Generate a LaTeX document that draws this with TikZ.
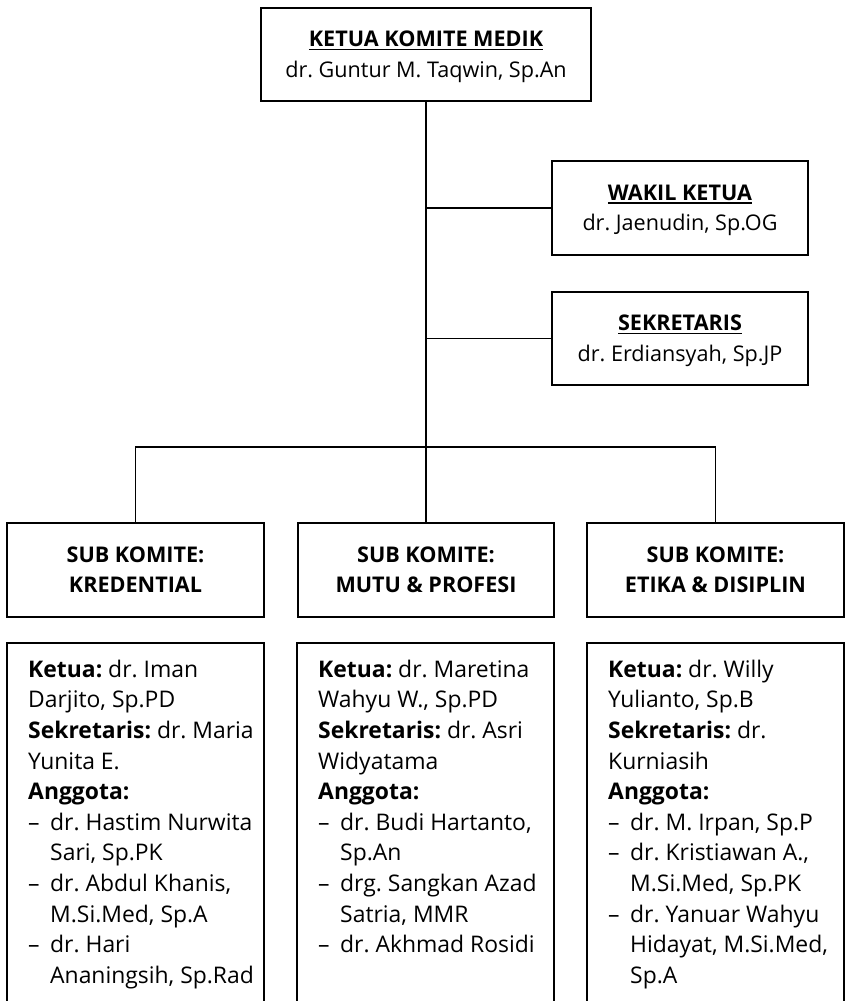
\documentclass[tikz,border=0pt]{standalone}
\usepackage{fontspec}
\setmainfont{Open Sans}
\frenchspacing
\newcommand\mainfs{\fontsize{21.6pt}{30.6pt}\selectfont\frenchspacing}
\newcommand\listfs{\fontsize{22.9pt}{30.6pt}\selectfont\frenchspacing}
\newcommand\topstrut{\rule{0pt}{24pt}}
\newcommand\botstrut{\rule[-9pt]{0pt}{9pt}}
\newcommand\ulbox[1]{\setbox0\hbox{#1}\rlap{\rule[-3.5pt]{\wd0}{1.3pt}}\box0}
\newcommand\li{\makebox[22pt][l]{–}}
\newcommand\ind{\hspace*{22pt}}
\tikzset{
  box/.style={draw, line width=2.7pt, minimum width=256pt, minimum height=94pt,
              inner sep=0pt, align=center, font=\mainfs},
  conn/.style={line width=1.3pt},
  boxline/.style={line width=2.7pt},
  listtext/.style={align=left, inner xsep=21pt, inner ysep=10pt, anchor=north west, font=\listfs}
}
\begin{document}
\begin{tikzpicture}[x=1pt,y=-1pt]
\useasboundingbox[fill=white] (0,0) rectangle (846,1001);
% top level
\node[box, minimum width=330pt, minimum height=93pt] (ketua) at (426,54.5)
  {\topstrut\textbf{\ulbox{KETUA KOMITE MEDIK}}\\dr. Guntur M. Taqwin, Sp.An\botstrut};
\node[box] (wakil) at (680,208)
  {\topstrut\textbf{\ulbox{WAKIL KETUA}}\\dr. Jaenudin, Sp.OG\botstrut};
\node[box, minimum height=93pt] (sekr) at (680,338.5)
  {\topstrut\textbf{\ulbox{SEKRETARIS}}\\dr. Erdiansyah, Sp.JP\botstrut};
% sub komite
\node[box, minimum width=257pt] (s1) at (135.5,570)
  {\topstrut\textbf{SUB KOMITE:}\\\textbf{KREDENTIAL}\botstrut};
\node[box] (s2) at (426,570)
  {\topstrut\textbf{SUB KOMITE:}\\\textbf{MUTU \& PROFESI}\botstrut};
\node[box, minimum width=257pt] (s3) at (715.5,570)
  {\topstrut\textbf{SUB KOMITE:}\\\textbf{ETIKA \& DISIPLIN}\botstrut};
% connectors
\coordinate (bus) at (426,447);
\draw[conn] (ketua.south) -- (s2.north);
\draw[conn] (ketua.south |- wakil.west) -- (wakil.west);
\draw[conn] (ketua.south |- sekr.west) -- (sekr.west);
\draw[conn] (s1.north) -- (s1.north |- bus) -- (s3.north |- bus) -- (s3.north);
% member boxes (open at the bottom)
\coordinate (b1nw) at (7,643);   \coordinate (b1ne) at (264,643);
\coordinate (b2nw) at (297,643); \coordinate (b2ne) at (554,643);
\coordinate (b3nw) at (587,643); \coordinate (b3ne) at (844,643);
\coordinate (floor) at (0,1012);
\foreach \b in {b1,b2,b3}{
  \draw[boxline] (\b nw |- floor) -- (\b nw) -- (\b ne) -- (\b ne |- floor);
}
\node[listtext] (m1) at (b1nw) {\topstrut\textbf{Ketua:} dr. Iman\\
Darjito, Sp.PD\\
\textbf{Sekretaris:} dr. Maria\\
Yunita E.\\
\textbf{Anggota:}\\
\li dr. Hastim Nurwita\\
\ind Sari, Sp.PK\\
\li dr. Abdul Khanis,\\
\ind M.Si.Med, Sp.A\\
\li dr. Hari\\
\ind Ananingsih, Sp.Rad};
\node[listtext] (m2) at (b2nw) {\topstrut\textbf{Ketua:} dr. Maretina\\
Wahyu W., Sp.PD\\
\textbf{Sekretaris:} dr. Asri\\
Widyatama\\
\textbf{Anggota:}\\
\li dr. Budi Hartanto,\\
\ind Sp.An\\
\li drg. Sangkan Azad\\
\ind Satria, MMR\\
\li dr. Akhmad Rosidi};
\node[listtext] (m3) at (b3nw) {\topstrut\textbf{Ketua:} dr. Willy\\
Yulianto, Sp.B\\
\textbf{Sekretaris:} dr.\\
Kurniasih\\
\textbf{Anggota:}\\
\li dr. M. Irpan, Sp.P\\
\li dr. Kristiawan A.,\\
\ind M.Si.Med, Sp.PK\\
\li dr. Yanuar Wahyu\\
\ind Hidayat, M.Si.Med,\\
\ind Sp.A};
\end{tikzpicture}
\end{document}
